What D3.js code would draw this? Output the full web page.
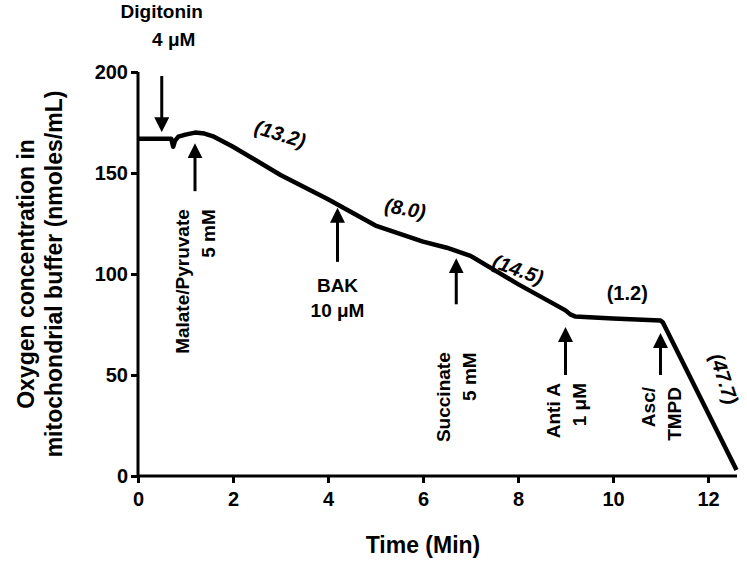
<!DOCTYPE html>
<html><head><meta charset="utf-8">
<script src="https://cdn.jsdelivr.net/npm/d3@7"></script>
<style>body{margin:0;background:#fff}text{font-family:Arial,"Liberation Sans",sans-serif;font-weight:bold}</style>
</head><body>
<script>
// trace of oxygen concentration
const times = [0, 0.5, 0.7, 0.74, 0.78, 0.85, 1.0, 1.2, 1.4, 1.6, 1.8, 2, 3, 4, 5, 6, 6.5, 7, 8, 9, 9.1, 9.2, 10, 11, 11.05, 12.6];
const oxygen = [167, 167, 167, 163, 166, 168, 169, 170, 169.5, 168, 165.5, 163, 149, 137, 124, 116, 113, 109, 95, 82, 80, 79, 78, 77, 76, 3];
const xTicks = [0, 2, 4, 6, 8, 10, 12];
const yTicks = [0, 50, 100, 150, 200];
// additions: time, arrow direction, arrow ends (data units), label lines
const additions = [
  {t: 0.5, dir: "down", y0: 198, y1: 168, lines: ["Digitonin", "4 \u03bcM"], rot: false, off: 0},
  {t: 1.2, dir: "up", y0: 141, y1: 167, lines: ["Malate/Pyruvate", "5 mM"], rot: true, off: 10},
  {t: 4.2, dir: "up", y0: 106, y1: 135, lines: ["BAK", "10 \u03bcM"], rot: false, off: 0},
  {t: 6.7, dir: "up", y0: 85, y1: 110, lines: ["Succinate", "5 mM"], rot: true, off: 40},
  {t: 9.0, dir: "up", y0: 50, y1: 76, lines: ["Anti A", "1 \u03bcM"], rot: true, off: 0},
  {t: 11.0, dir: "up", y0: 50, y1: 73, lines: ["Asc/", "TMPD"], rot: true, off: 4}
];
const rates = [
  {t: 2.95, v: 166, txt: "(13.2)", a: 17},
  {t: 5.6, v: 129, txt: "(8.0)", a: 10},
  {t: 7.95, v: 99, txt: "(14.5)", a: 20},
  {t: 10.3, v: 87, txt: "(1.2)", a: 0},
  {t: 12.2, v: 47, txt: "(47.7)", a: 72}
];

const W = 747, H = 564;
const x = d3.scaleLinear().domain([0, 12]).range([138, 708]);
const y = d3.scaleLinear().domain([0, 200]).range([476, 72]);
const svg = d3.select("body").append("svg").attr("width", W).attr("height", H);

svg.append("defs").append("marker").attr("id", "ah").attr("viewBox", "0 0 10 10")
  .attr("refX", 5).attr("refY", 5).attr("markerWidth", 5).attr("markerHeight", 5)
  .attr("orient", "auto-start-reverse").attr("markerUnits", "strokeWidth")
  .append("path").attr("d", "M0,0L10,5L0,10Z").attr("fill", "#000");

const xa = svg.append("g").attr("transform", "translate(0,476)")
  .call(d3.axisBottom(x).tickValues(xTicks).tickSize(7).tickFormat(d3.format("d")));
xa.select(".domain").attr("d", `M${x(0)},0H737`);
const ya = svg.append("g").attr("transform", "translate(138,0)")
  .call(d3.axisLeft(y).tickValues(yTicks).tickSize(7));
[xa, ya].forEach(g => {
  g.selectAll("path,line").attr("stroke", "#000").attr("stroke-width", 3);
  g.selectAll("text").attr("font-size", 20).attr("fill", "#000");
});
ya.select(".domain").attr("d", `M0,${y(0)}V${y(200)}`);
xa.selectAll("text").attr("dy", "1.0em");

svg.append("text").attr("x", 423).attr("y", 553).attr("text-anchor", "middle")
  .attr("font-size", 23).text("Time (Min)");
svg.append("text").attr("transform", "translate(34,274) rotate(-90)").attr("text-anchor", "middle")
  .attr("font-size", 23).text("Oxygen concentration in");
svg.append("text").attr("transform", "translate(62,274) rotate(-90)").attr("text-anchor", "middle")
  .attr("font-size", 23).text("mitochondrial buffer (nmoles/mL)");

const pts = times.map((t, i) => [t, oxygen[i]]);
svg.append("path").datum(pts).attr("fill", "none").attr("stroke", "#000")
  .attr("stroke-width", 4.5).attr("stroke-linejoin", "round")
  .attr("d", d3.line().x(d => x(d[0])).y(d => y(d[1])));

additions.forEach(a => {
  const px = x(a.t);
  const tipY = y(a.y1), tailY = y(a.y0);
  svg.append("line").attr("x1", px).attr("x2", px)
    .attr("y1", tailY).attr("y2", a.dir === "down" ? tipY - 12 : tipY + 12)
    .attr("stroke", "#000").attr("stroke-width", 3).attr("marker-end", "url(#ah)");
  if (a.dir === "down") {
    svg.append("text").attr("x", px).attr("y", 18).attr("text-anchor", "middle").attr("font-size", 19).text(a.lines[0]);
    svg.append("text").attr("x", px + 12).attr("y", 46).attr("text-anchor", "middle").attr("font-size", 19).text(a.lines[1]);
  } else if (!a.rot) {
    svg.append("text").attr("x", px).attr("y", tailY + 30).attr("text-anchor", "middle").attr("font-size", 19).text(a.lines[0]);
    svg.append("text").attr("x", px).attr("y", tailY + 55).attr("text-anchor", "middle").attr("font-size", 19).text(a.lines[1]);
  } else {
    svg.append("text").attr("transform", `translate(${px - 6},${tailY + 8 + a.off}) rotate(-90)`)
      .attr("text-anchor", "end").attr("font-size", 19).text(a.lines[0]);
    svg.append("text").attr("transform", `translate(${px + 20},${tailY + 8 + a.off}) rotate(-90)`)
      .attr("text-anchor", "end").attr("font-size", 19).text(a.lines[1]);
  }
});

rates.forEach(r => {
  svg.append("text").attr("transform", `translate(${x(r.t)},${y(r.v)}) rotate(${r.a})`)
    .attr("text-anchor", "middle").attr("font-size", 20).attr("font-style", r.a ? "italic" : "normal")
    .attr("font-weight", r.a ? "normal" : "bold").text(r.txt);
});
</script>
</body></html>
